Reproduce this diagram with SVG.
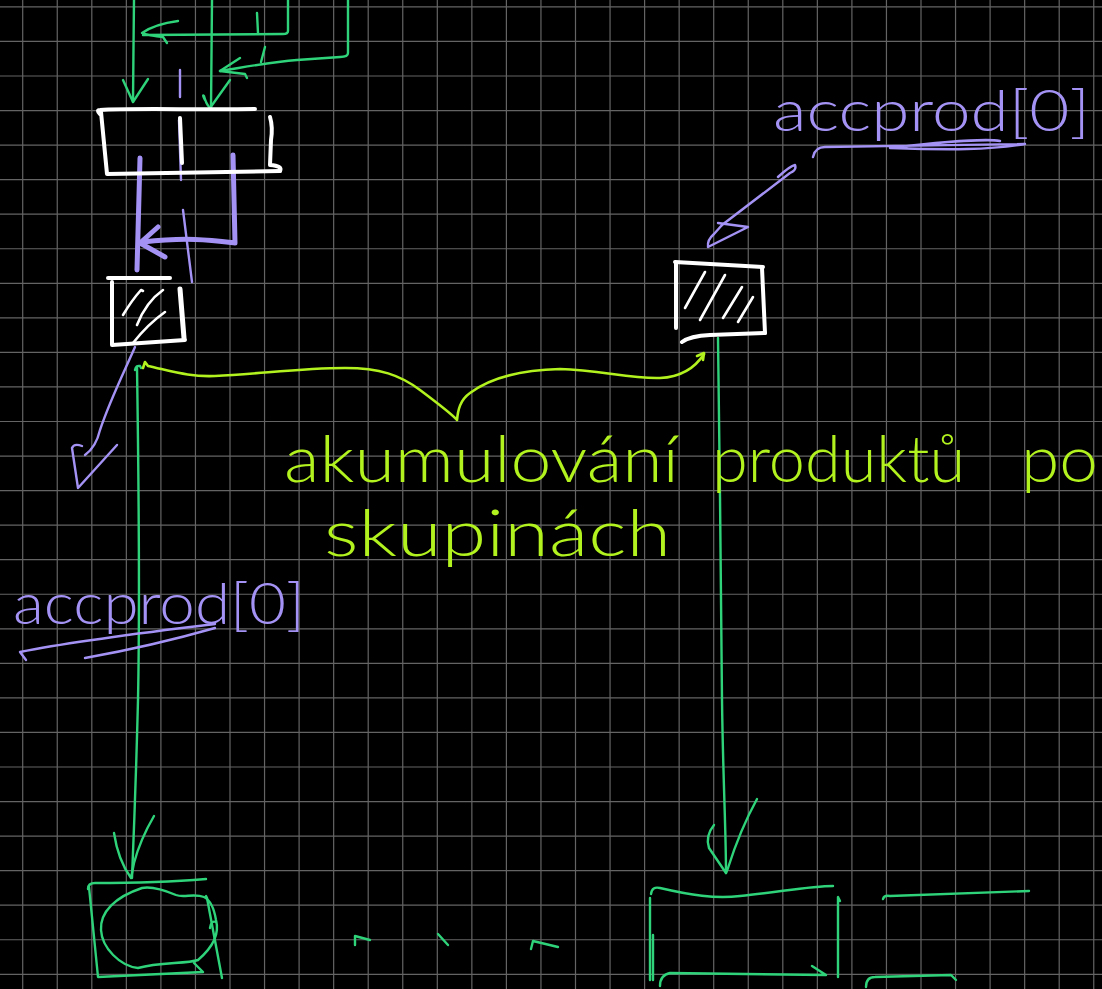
<svg xmlns="http://www.w3.org/2000/svg" width="1102" height="989" viewBox="0 0 1102 989">
  <style>
    .grid { stroke: #646464; stroke-width: 1.2; fill: none; }
    .ink { fill: none; stroke-linecap: round; stroke-linejoin: round; }
    .g { stroke: #2fd37a; stroke-width: 2.4; }
    .p { stroke: #a493f4; stroke-width: 2.4; }
    .pt { stroke: #a493f4; stroke-width: 5; }
    .w { stroke: #ffffff; stroke-width: 4; }
    .wt { stroke: #ffffff; stroke-width: 2.6; }
    .l { stroke: #b2f21e; stroke-width: 2.6; }
    .hand { font-family: Lato, "Open Sans", "Liberation Sans", sans-serif; font-weight: 300; }
    .purple { fill: #a493f4; }
    .lime { fill: #b2f21e; }
  </style>

  <!-- board background and grid -->
  <rect x="0" y="0" width="1102" height="989" fill="#000000"/>
  <path class="grid" d="M22.7,0V989M57.25,0V989M91.8,0V989M126.35,0V989M160.9,0V989M195.45,0V989M230,0V989M264.55,0V989M299.1,0V989M333.65,0V989M368.2,0V989M402.75,0V989M437.3,0V989M471.85,0V989M506.4,0V989M540.95,0V989M575.5,0V989M610.05,0V989M644.6,0V989M679.15,0V989M713.7,0V989M748.25,0V989M782.8,0V989M817.35,0V989M851.9,0V989M886.45,0V989M921,0V989M955.55,0V989M990.1,0V989M1024.65,0V989M1059.2,0V989M1093.75,0V989
  M0,6.9H1102M0,41.45H1102M0,76H1102M0,110.55H1102M0,145.1H1102M0,179.65H1102M0,214.2H1102M0,248.75H1102M0,283.3H1102M0,317.85H1102M0,352.4H1102M0,386.95H1102M0,421.5H1102M0,456.05H1102M0,490.6H1102M0,525.15H1102M0,559.7H1102M0,594.25H1102M0,628.8H1102M0,663.35H1102M0,697.9H1102M0,732.45H1102M0,767H1102M0,801.55H1102M0,836.1H1102M0,870.65H1102M0,905.2H1102M0,939.75H1102M0,974.3H1102"/>

  <!-- connectors -->
  <g id="connectors" class="ink">
    <!-- incoming green wires at the top -->
    <path class="ink g" d="M134,0 C134,30 133,70 133,102"/>
    <path class="ink g" d="M123,80 L133,102 L148,79"/>
    <path class="ink g" d="M288,0 L288,31 Q288,34 283,34 L143,35"/>
    <path class="ink g" d="M178,21 Q155,24 142,33 Q150,36 163,37 L167,43"/>
    <path class="ink g" d="M212,0 L211,108"/>
    <path class="ink g" d="M205,100 Q202,94 204,96 Q206,104 210,108 L230,80"/>
    <path class="ink g" d="M348,0 L348,53 Q348,57 340,57 L297,60 C270,62 240,68 220,71"/>
    <path class="ink g" d="M240,58 L220,71 L245,74 L247,78"/>
    <path class="ink g" d="M257,13 L258,33 M265,47 L261,62"/>

    <!-- purple feedback inside the upper register -->
    <path class="ink p" d="M180,70 L180,97 M179,120 L181,180 M183,210 L192,282"/>
    <path class="ink pt" d="M140,158 L137,270"/>
    <path class="ink pt" d="M233,155 L235,243 C210,240 187,237 143,242"/>
    <path class="ink pt" d="M158,227 L140,243 L165,257"/>

    <!-- purple arrow leaving the small register -->
    <path class="ink p" d="M135,347 C125,370 110,400 100,430 C97,443 92,450 85,455"/>
    <path class="ink p" d="M82,446 Q74,443 72,448 L78,488 L117,445"/>

    <!-- long green wires down to the bottom row -->
    <path class="ink g" d="M135,370 Q136,365 140,366 L141,368"/>
    <path class="ink g" d="M137,367 C139,500 140,600 138,700 C136,780 134,830 132,878"/>
    <path class="ink g" d="M114,833 Q118,860 131,878 L134,863 Q140,840 154,816"/>
    <path class="ink g" d="M718,338 C719,450 722,600 722,700 C723,780 726,830 726,873"/>
    <path class="ink g" d="M714,825 Q705,836 709,848 L726,873 L728,868 Q740,830 757,799"/>

    <!-- brace grouping both registers -->
    <path class="ink l" d="M143,368 L145,362 L148,366 C175,372 190,377 215,376 C260,374 300,368 345,368 C380,368 400,375 420,390 C440,405 452,414 457,420 C458,410 460,400 470,393 C490,378 520,370 560,369 C600,370 630,379 660,378 C680,377 695,368 704,354"/>
    <path class="ink l" d="M697,356 L704,353 L703,360"/>

    <!-- purple pointer from the upper-right label -->
    <path class="ink p" d="M778,177 Q790,166 795,165 Q797,170 790,173 L722,225"/>
    <path class="ink p" d="M718,223 L748,227 L708,247 Q707,240 714,234 L722,225"/>
  </g>

  <!-- upper register -->
  <g id="node-register" class="ink">
    <path class="ink w" d="M100,114 Q96,110 100,110 C130,108 200,110 255,109"/>
    <path class="ink w" d="M101,112 L107,174 L280,171"/>
    <path class="ink w" d="M270,117 Q273,127 271,140 L270,165 Q283,166 280,171"/>
    <path class="ink w" d="M180,118 L182,163"/>
  </g>

  <!-- small hatched register -->
  <g id="node-reg-left" class="ink">
    <path class="ink w" d="M108,278 L170,278"/>
    <path class="ink w" d="M112,282 L112,345 L185,340"/>
    <path class="ink w" style="stroke-width:5" d="M180,289 L184,338"/>
    <path class="ink wt" d="M123,315 Q132,300 141,290 L143,291"/>
    <path class="ink wt" d="M137,325 Q146,302 163,290"/>
    <path class="ink wt" d="M133,343 Q148,324 165,312"/>
  </g>

  <!-- right hatched register -->
  <g id="node-reg-right" class="ink">
    <path class="ink w" d="M675,262 L763,267"/>
    <path class="ink w" d="M676,263 L676,328"/>
    <path class="ink w" d="M762,268 L765,333"/>
    <path class="ink w" d="M682,342 Q690,336 710,335 L765,333"/>
    <path class="ink wt" d="M685,308 L705,272 M700,320 L725,275 M723,318 L742,287 M738,322 L753,297"/>
  </g>

  <!-- bottom row -->
  <g id="node-bottom-left" class="ink">
    <path class="ink g" d="M88,889 Q88,883 95,883 C130,883 170,882 206,879"/>
    <path class="ink g" d="M89,887 L98,977 L203,972 L194,963"/>
    <path class="ink g" d="M206,896 L207,898 Q215,940 222,978"/>
    <path class="ink g" d="M142,888 C115,897 100,912 101,930 C102,948 120,966 138,968 C160,962 186,964 198,960 C212,948 220,935 216,920 C214,908 210,900 204,897 C194,893 184,898 176,895 C164,890 152,886 142,888 Z"/>
    <path class="ink g" d="M210,928 Q211,920 216,922"/>
  </g>

  <g id="node-dots" class="ink">
    <path class="ink g" d="M355,945 L355,936 L370,940"/>
    <path class="ink g" d="M438,934 L448,945"/>
    <path class="ink g" d="M531,949 L533,941 L558,947"/>
  </g>

  <g id="node-bottom-right" class="ink">
    <path class="ink g" d="M651,894 Q652,886 660,888 C690,895 715,899 740,896 C780,892 810,886 833,886"/>
    <path class="ink g" d="M650,898 L650,980 M653,935 L653,980"/>
    <path class="ink g" d="M660,986 Q660,975 670,973 L826,975 L812,966"/>
    <path class="ink g" d="M840,901 L838,897 L838,977"/>
  </g>

  <g id="node-bottom-far" class="ink">
    <path class="ink g" d="M883,899 Q884,895 890,896 L1029,891"/>
    <path class="ink g" d="M866,987 Q866,977 875,977 L951,975 L956,980"/>
  </g>

  <!-- labels -->
  <g id="label-accprod-right">
    <text class="hand purple" x="773" y="131" font-size="58" textLength="317" lengthAdjust="spacingAndGlyphs">accprod[0]</text>
    <path class="ink p" d="M813,157 Q815,147 825,147 C880,146 960,145 1025,144 C990,150 950,150 890,148 C950,141 990,139 1000,141"/>
  </g>

  <g id="label-accprod-left">
    <text class="hand purple" x="13" y="624" font-size="58" textLength="292" lengthAdjust="spacingAndGlyphs">accprod[0]</text>
    <path class="ink p" d="M26,660 L20,652 C80,640 150,632 215,624 M85,658 C130,650 180,638 215,628"/>
  </g>

  <g id="label-note">
    <text class="hand lime" x="284" y="482" font-size="66" textLength="395" lengthAdjust="spacingAndGlyphs">akumulování</text>
    <text class="hand lime" x="712" y="482" font-size="66" textLength="253" lengthAdjust="spacingAndGlyphs">produktů</text>
    <text class="hand lime" x="1021" y="482" font-size="66" textLength="77" lengthAdjust="spacingAndGlyphs">po</text>
    <text class="hand lime" x="324" y="556" font-size="66" textLength="347" lengthAdjust="spacingAndGlyphs">skupinách</text>
  </g>
</svg>
